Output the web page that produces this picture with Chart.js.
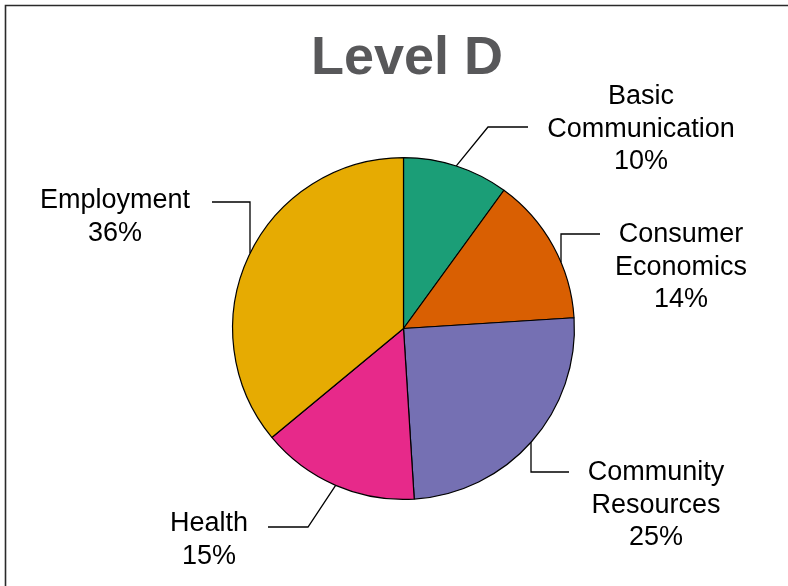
<!DOCTYPE html>
<html>
<head>
<meta charset="utf-8">
<title>Level D</title>
<script src="https://cdn.jsdelivr.net/npm/chart.js@4"></script>
<style>
  html, body { margin: 0; padding: 0; background: #fff; }
  canvas { display: block; }
</style>
</head>
<body>
<canvas id="pie" width="788" height="586"></canvas>
<script>
// Данные
const chartTitle = 'Level D';
const categories = ['Basic Communication', 'Consumer Economics', 'Community Resources', 'Health', 'Employment'];
const shares = [10, 14, 25, 15, 36];
const sliceColors = ['#1b9e77', '#d95f02', '#7570b3', '#e7298a', '#e6ab02'];

// Выноски: излом линии, конец линии, центр текста (x) и середина первой строки (y)
const calloutLayout = [
  { elbow: [488, 127], end: [528, 127], text: [641, 97], vertical: false },
  { elbow: [561, 234], end: [600, 234], text: [681, 235], vertical: true },
  { elbow: [531, 472], end: [569, 472], text: [656, 473], vertical: true },
  { elbow: [308, 527], end: [268, 527], text: [209, 524], vertical: false },
  { elbow: [250, 202], end: [212, 202], text: [115, 201], vertical: true }
];

const LINE_HEIGHT = 32.5;

/**
 * Рамка, заголовок и подписи с выносками
 */
const calloutPlugin = {
  id: 'callouts',
  afterDraw(chart) {
    const ctx = chart.ctx;
    const meta = chart.getDatasetMeta(0);

    ctx.save();

    // рамка сверху и слева
    ctx.strokeStyle = '#2a2a2a';
    ctx.lineWidth = 1.6;
    ctx.beginPath();
    ctx.moveTo(5.5, chart.height);
    ctx.lineTo(5.5, 5.5);
    ctx.lineTo(chart.width, 5.5);
    ctx.stroke();

    // заголовок
    ctx.fillStyle = '#58585a';
    ctx.font = 'bold 54px "Liberation Sans", Arial, sans-serif';
    ctx.textAlign = 'center';
    ctx.textBaseline = 'alphabetic';
    ctx.fillText(chartTitle, 407, 74);

    ctx.font = '27px "Liberation Sans", Arial, sans-serif';
    ctx.textBaseline = 'middle';

    meta.data.forEach((arc, i) => {
      const layout = calloutLayout[i];
      const { x, y, startAngle, endAngle, outerRadius } = arc.getProps(['x', 'y', 'startAngle', 'endAngle', 'outerRadius'], true);
      const mid = (startAngle + endAngle) / 2;
      let sx = x + Math.cos(mid) * outerRadius;
      let sy = y + Math.sin(mid) * outerRadius;

      // вертикальная выноска начинается на окружности прямо под/над изломом
      if (layout.vertical) {
        const dx = layout.elbow[0] - x;
        const dy = Math.sqrt(Math.max(outerRadius * outerRadius - dx * dx, 0));
        sx = layout.elbow[0];
        sy = sy < y ? y - dy : y + dy;
      }

      ctx.strokeStyle = '#000';
      ctx.lineWidth = 1.3;
      ctx.beginPath();
      ctx.moveTo(sx, sy);
      ctx.lineTo(layout.elbow[0], layout.elbow[1]);
      ctx.lineTo(layout.end[0], layout.end[1]);
      ctx.stroke();

      const lines = categories[i].split(' ').concat(shares[i] + '%');
      ctx.fillStyle = '#000';
      lines.forEach((line, k) => {
        ctx.fillText(line, layout.text[0], layout.text[1] + k * LINE_HEIGHT);
      });
    });

    ctx.restore();
  }
};

new Chart(document.getElementById('pie').getContext('2d'), {
  type: 'pie',
  data: {
    labels: categories,
    datasets: [{
      data: shares,
      backgroundColor: sliceColors,
      borderColor: '#000',
      borderWidth: 1.2
    }]
  },
  options: {
    responsive: false,
    animation: false,
    rotation: 0,
    layout: {
      padding: { top: 157, bottom: 86, left: 232, right: 213 }
    },
    plugins: {
      legend: { display: false },
      tooltip: { enabled: false },
      title: { display: false }
    }
  },
  plugins: [calloutPlugin]
});
</script>
</body>
</html>
